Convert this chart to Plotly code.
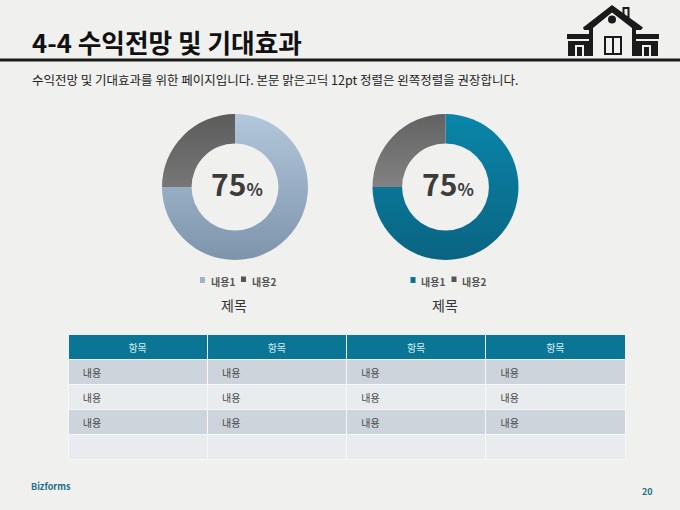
import plotly.graph_objects as go

FONT = 'Noto Sans CJK KR'

slice_labels = ['내용1', '내용2']
left_values = [75, 25]
right_values = [75, 25]
center_text = '75'
chart_title = '제목'

table_header = ['항목', '항목', '항목', '항목']
table_col = ['내용', '내용', '내용', '']

BG = '#f0f0ee'
DARK = '#1a1a1a'
TEAL = '#0b7595'
LEFT_COLS = ['#9db2c8', '#6e6e6e']
RIGHT_COLS = ['#0a7596', '#757575']


def pie_domain(cx, cy, r):
    return dict(x=[(cx - r) / 680, (cx + r) / 680], y=[1 - (cy + r) / 510, 1 - (cy - r) / 510])


fig = go.Figure()

for values, cols, cx in [(left_values, LEFT_COLS, 235), (right_values, RIGHT_COLS, 445.5)]:
    fig.add_trace(go.Pie(
        labels=slice_labels, values=values, sort=False, direction='clockwise', rotation=0,
        hole=0.595, textinfo='none', showlegend=False, hoverinfo='label+percent',
        marker=dict(colors=cols, line=dict(width=0)),
        domain=pie_domain(cx, 187, 73),
    ))

fig.add_trace(go.Table(
    columnwidth=[139, 139, 139, 139],
    domain=dict(x=[68 / 680, 625.5 / 680], y=[1 - 462 / 510, 1 - 334 / 510]),
    header=dict(values=table_header, height=25, fill_color=TEAL, align='center',
                line=dict(color='#e8f0f2', width=1),
                font=dict(family=FONT, size=9, color='#d5eef2')),
    cells=dict(values=[['\u00a0\u00a0\u00a0' + t if t else t for t in table_col] for _ in table_header],
               height=25, align='left',
               fill_color=[['#cdd4dc', '#e8ecef', '#cdd4dc', '#e8ecef']] * 4,
               line=dict(color='#f6f7f7', width=1),
               font=dict(family=FONT, size=9, color='#444444')),
))

shapes = []
annotations = []


def text(x, y, s, size, color='#222222', anchor='left', bold=False):
    annotations.append(dict(
        x=x, y=y, xref='x', yref='y', text=f'<b>{s}</b>' if bold else s, showarrow=False,
        xanchor=anchor, yanchor='middle', font=dict(family=FONT, size=size, color=color),
    ))


def rect(x0, y0, x1, y1, color):
    shapes.append(dict(type='rect', xref='x', yref='y', x0=x0, y0=y0, x1=x1, y1=y1,
                       fillcolor=color, line=dict(width=0)))


def poly(path, color):
    shapes.append(dict(type='path', xref='x', yref='y', path=path, fillcolor=color, line=dict(width=0)))


# Kopfzeile
text(30, 41, '4-4 수익전망 및 기대효과', 25.7, '#111111', bold=True)
rect(0, 58.5, 680, 61.5, DARK)
text(30, 79, '수익전망 및 기대효과를 위한 페이지입니다. 본문 맑은고딕 12pt 정렬은 왼쪽정렬을 권장합니다.', 12.5, '#222222')

# Haus-Icon
rect(622.5, 7, 629.5, 18, DARK)
rect(624.5, 9, 627.5, 16, BG)
poly('M583,27.5 L612,5 L643,27.5 L641,30 L584,30 Z', DARK)
poly('M593,28 L612,12.5 L632,28 L632,31 L593,31 Z', BG)
shapes.append(dict(type='circle', xref='x', yref='y', x0=608, y0=15.5, x1=616, y1=23.5,
                   fillcolor=DARK, line=dict(width=0)))
rect(593, 28, 632, 56, BG)
rect(589, 30, 593, 56, DARK)
rect(632, 30, 636, 56, DARK)
rect(567, 34, 589, 39, DARK)
rect(636, 34, 659, 39, DARK)
rect(568, 41, 589, 56, DARK)
rect(636, 41, 658, 56, DARK)
rect(575, 45, 584, 56, BG)
rect(577, 47, 582, 56, DARK)
rect(642, 45, 651, 56, BG)
rect(644, 47, 649, 56, DARK)
rect(604, 36, 622, 55, DARK)
rect(606, 38, 612, 53, BG)
rect(614, 38, 620, 53, BG)

# Mitte, Legende und Titel der beiden Donuts
for cx, col1 in [(235, '#9db2c8'), (445.5, '#0a7596')]:
    annotations.append(dict(
        x=cx + 2, y=182.5, xref='x', yref='y', showarrow=False, xanchor='center', yanchor='middle',
        text=f'<b><span style="font-size:30px">{center_text}</span><span style="font-size:17px">%</span></b>',
        font=dict(family=FONT, color='#3c3c3c'),
    ))
    rect(cx - 35, 277, cx - 30, 283, col1)
    text(cx - 26.5, 281, slice_labels[0], 10, '#555555', bold=True)
    rect(cx + 6, 276.5, cx + 11, 282, '#555555')
    text(cx + 14.5, 281, slice_labels[1], 10, '#555555', bold=True)
    text(cx - 1, 305, chart_title, 14, '#333333', anchor='center')

# Fusszeile
text(29, 486.5, 'Bizforms', 9, '#1d6f8c', bold=True)
text(655, 491, '20', 9, '#1d6f8c', anchor='right', bold=True)

fig.update_layout(
    width=680, height=510,
    margin=dict(l=0, r=0, t=0, b=0),
    paper_bgcolor=BG, plot_bgcolor=BG,
    xaxis=dict(visible=False, range=[0, 680], fixedrange=True),
    yaxis=dict(visible=False, range=[510, 0], fixedrange=True),
    shapes=shapes, annotations=annotations, showlegend=False,
)

# Plotly kennt keine Verlaeufe fuer Pie, daher die Segmente nachtraeglich fuellen
post = """
document.body.style.margin = '0';
document.body.style.background = '%s';
var gd = document.getElementById('{plot_id}');
var svg = gd.querySelector('.main-svg');
var ns = 'http://www.w3.org/2000/svg';
var defs = document.createElementNS(ns, 'defs');
var grads = {
  g0_0: ['#b3c7dc', '#7d94aa'], g0_1: ['#5c5c5c', '#777777'],
  g1_0: ['#0a86aa', '#0a6482'], g1_1: ['#626262', '#828282']
};
Object.keys(grads).forEach(function (k) {
  var g = document.createElementNS(ns, 'linearGradient');
  g.setAttribute('id', k);
  g.setAttribute('x1', '0'); g.setAttribute('y1', '0'); g.setAttribute('x2', '0'); g.setAttribute('y2', '1');
  grads[k].forEach(function (c, i) {
    var s = document.createElementNS(ns, 'stop');
    s.setAttribute('offset', String(i));
    s.setAttribute('stop-color', c);
    g.appendChild(s);
  });
  defs.appendChild(g);
});
svg.insertBefore(defs, svg.firstChild);
gd.querySelectorAll('.pielayer .trace').forEach(function (t, i) {
  t.querySelectorAll('.slice path.surface').forEach(function (p, j) {
    p.style.fill = 'url(#g' + i + '_' + j + ')';
  });
});
// Tabellentext sitzt in der Vorlage etwas tiefer und groesser, ohne die Zeilen zu strecken
gd.querySelectorAll('.table .cell-text').forEach(function (t) {
  t.style.transform = 'translateY(2px)';
  t.style.fontSize = '10px';
});
""" % BG

fig.write_html("out.html", post_script=post, config=dict(displayModeBar=False))
